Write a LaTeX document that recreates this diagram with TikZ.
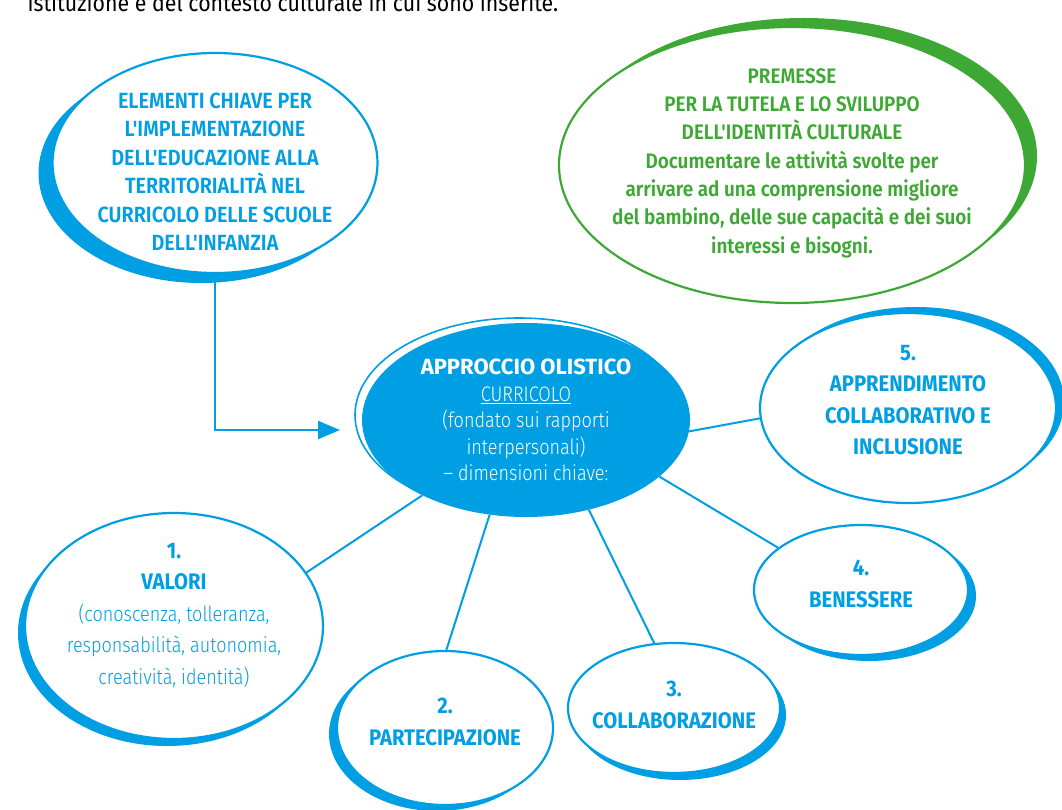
\documentclass[tikz,border=0pt]{standalone}
\usepackage{fontspec}
\setmainfont[FakeStretch=0.9,Ligatures=TeXOff,BoldFont={Fira Sans SemiBold}]{Fira Sans}
\newfontfamily\heavyfont[FakeStretch=0.9]{Fira Sans Bold}
\newfontfamily\widefont{Fira Sans Bold}
\newfontfamily\lightfont[FakeStretch=0.86]{Fira Sans Light}
\usepackage{tikz}
\usetikzlibrary{shapes.geometric}
\usetikzlibrary{shadows}
\usetikzlibrary{arrows.meta}
\definecolor{cblue}{RGB}{0,158,226}
\definecolor{cgreen}{RGB}{62,168,53}

% light lines under the bold ones
\newcommand{\softline}[1]{{\lightfont\fontsize{21}{32}\selectfont #1}}
% empty line that pushes the text up or down inside an ellipse
\newcommand{\padbelow}[1]{\\[#1]\mbox{}}
\newcommand{\padabove}[1]{\mbox{}\\[#1]}

\tikzset{
	% negative inner sep: the ellipse keeps its minimum size
	bubble/.style={ellipse, draw=cblue, line width=2.2pt, fill=white, inner sep=-90pt,
		align=center, text=cblue},
	rim/.style n args={3}{general shadow={fill=#1, shadow xshift=#2, shadow yshift=#3}},
	link/.style={draw=cblue, line width=2pt},
	headtext/.style={font=\bfseries\fontsize{22}{28.5}\selectfont},
	numtext/.style={font=\heavyfont\fontsize{22.5}{31.5}\selectfont},
}

\begin{document}
\begin{tikzpicture}[x=1pt,y=-1pt]
	\useasboundingbox (0,0) rectangle (1062,810);
	\clip (0,0) rectangle (1062,810);
	\node[anchor=base west, font=\fontsize{23.7}{28}\selectfont] (intro) at (24,12)
		{istituzione e del contesto culturale in cui sono inserite.};

	% the two heading ellipses
	\node[bubble, headtext, rim={cblue}{-14pt}{-10pt}, minimum width=325, minimum height=220]
		(key) at (215,163) {\padabove{5pt}ELEMENTI CHIAVE PER\\L'IMPLEMENTAZIONE\\DELL'EDUCAZIONE ALLA\\
		TERRITORIALITÀ NEL\\CURRICOLO DELLE SCUOLE\\DELL'INFANZIA};
	\node[bubble, headtext, draw=cgreen, text=cgreen, rim={cgreen}{12pt}{9pt},
		font=\bfseries\fontsize{21}{28.3}\selectfont,
		minimum width=466, minimum height=276] (premesse) at (792,165)
		{PREMESSE\\PER LA TUTELA E LO SVILUPPO\\DELL'IDENTITÀ CULTURALE\\
		Documentare le attività svolte per\\arrivare ad una comprensione migliore\\
		del bambino, delle sue capacità e dei suoi\\interessi e bisogni.\padbelow{-20pt}};

	% centre
	\node[ellipse, fill=cblue, text=white, inner sep=-90pt, align=center,
		general shadow={draw=cblue, fill=white, line width=1.6pt, shadow xshift=-7pt, shadow yshift=5pt},
		font=\lightfont\fontsize{21}{26.5}\selectfont, minimum width=328, minimum height=194]
		(core) at (526,420) {{\widefont\fontsize{22}{26.5}\selectfont APPROCCIO OLISTICO}\\
		\underline{CURRICOLO}\\(fondato sui rapporti\\interpersonali)\\– dimensioni chiave:};

	% the five dimensions
	\node[bubble, numtext, rim={cblue}{-7pt}{-7pt}, minimum width=298, minimum height=226]
		(valori) at (174,626) {1.\\VALORI\\\softline{(conoscenza, tolleranza,}\\
		\softline{responsabilità, autonomia,}\\\softline{creatività, identità)}\padbelow{-7pt}};
	\node[bubble, numtext, rim={cblue}{-8pt}{-6pt}, minimum width=216, minimum height=154]
		(partecipa) at (445,728) {2.\\PARTECIPAZIONE\padbelow{-19pt}};
	\node[bubble, numtext, rim={cblue}{6pt}{-7pt}, minimum width=212, minimum height=130]
		(collabora) at (674,708) {3.\\COLLABORAZIONE\padbelow{-25pt}};
	\node[bubble, numtext, rim={cblue}{8pt}{-6pt}, minimum width=214, minimum height=130]
		(benessere) at (861,590) {4.\\BENESSERE\padbelow{-19pt}};
	\node[bubble, numtext, rim={cblue}{8pt}{6pt}, minimum width=296, minimum height=190]
		(apprendi) at (908,408) {5.\\APPRENDIMENTO\\COLLABORATIVO E\\INCLUSIONE\padbelow{-15pt}};

	\coordinate (tip) at (340,430);
	\draw[link, -{Triangle[length=22pt, width=18pt]}] (key.south) |- (tip);

	\draw[link] (core.216) -- (valori.22);
	\draw[link] (core.249) -- (partecipa.89);
	\draw[link] (core.305) -- (collabora.107);
	\draw[link] (core.337) -- (benessere.153);
	\draw[link] (core.356) -- (apprendi.184);
\end{tikzpicture}
\end{document}
